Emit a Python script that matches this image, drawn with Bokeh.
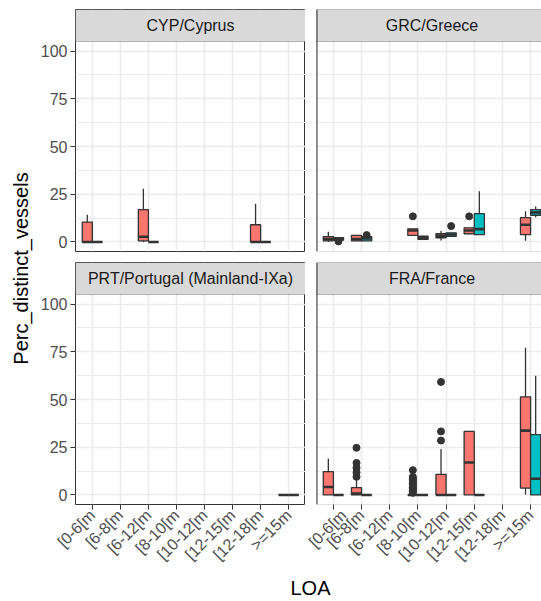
import math
import pandas as pd
from bokeh.plotting import figure
from bokeh.models import Range1d, FixedTicker, BoxAnnotation, Label, ColumnDataSource, Span
from bokeh.layouts import row, column
from bokeh.embed import file_html
from bokeh.resources import INLINE

# ---------------- data ----------------
CATEGORIES = ["[0-6[m", "[6-8[m", "[6-12[m", "[8-10[m", "[10-12[m",
              "[12-15[m", "[12-18[m", ">=15m"]
PANELS = ["CYP/Cyprus", "GRC/Greece", "PRT/Portugal (Mainland-IXa)", "FRA/France"]
GROUPS = ["group 1", "group 2"]
GROUP_COLORS = ["#F8766D", "#00BFC4"]
Y_TICKS = [0, 25, 50, 75, 100]
Y_MINOR = [12.5, 37.5, 62.5, 87.5]

# box statistics: one entry per box
box_panel = ["CYP/Cyprus"] * 6 + ["GRC/Greece"] * 12 + ["PRT/Portugal (Mainland-IXa)"] * 2 + ["FRA/France"] * 12
box_loa = ["[0-6[m", "[0-6[m", "[6-12[m", "[6-12[m", "[12-18[m", "[12-18[m",
           "[0-6[m", "[0-6[m", "[6-8[m", "[6-8[m", "[8-10[m", "[8-10[m",
           "[10-12[m", "[10-12[m", "[12-15[m", "[12-15[m", ">=15m", ">=15m",
           ">=15m", ">=15m",
           "[0-6[m", "[0-6[m", "[6-8[m", "[6-8[m", "[8-10[m", "[8-10[m",
           "[10-12[m", "[10-12[m", "[12-15[m", "[12-15[m", ">=15m", ">=15m"]
box_group = ["group 1", "group 2"] * 16
box_low = [0, 0, 0, 0, 0, 0,
           0, 1.0, 0.6, 0.6, 3.4, 1.3, 0.8, 2.9, 4.3, 3.8, 0.6, 13.0,
           0, 0,
           0, 0, 0, 0, 0, 0, 0, 0, 0, 0, 0.3, 0]
box_q1 = [0, 0, 0.6, 0, 0, 0,
          0.6, 1.0, 0.6, 0.6, 3.4, 1.3, 2.2, 2.9, 4.3, 3.8, 3.8, 14.0,
          0, 0,
          0, 0, 0, 0, 0, 0, 0, 0, 0, 0, 3.6, 0]
box_med = [0, 0, 2.7, 0, 0, 0,
           1.5, 1.5, 1.5, 1.8, 6.0, 2.2, 3.2, 3.9, 6.0, 6.7, 9.0, 15.5,
           0, 0,
           4.2, 0, 0.7, 0, 0, 0, 0, 0, 17.0, 0, 33.7, 8.5]
box_q3 = [10.4, 0, 16.9, 0, 9.0, 0,
          2.8, 2.2, 3.4, 2.8, 6.9, 3.0, 4.3, 4.8, 7.4, 14.8, 12.7, 16.9,
          0, 0,
          12.2, 0, 3.8, 0, 0, 0, 10.8, 0, 33.3, 0, 51.4, 31.6]
box_high = [14.2, 0, 27.9, 0, 20.0, 0,
            5.3, 2.2, 3.4, 2.8, 6.9, 3.0, 5.7, 4.8, 7.4, 26.5, 16.1, 18.6,
            0, 0,
            19.1, 0, 8.5, 0, 0, 0, 24.1, 0, 33.3, 0, 77.1, 62.5]

# outliers
out_panel = (["GRC/Greece"] * 5 + ["FRA/France"] * 22)
out_loa = (["[0-6[m", "[6-8[m", "[8-10[m", "[10-12[m", "[12-15[m"]
           + ["[6-8[m"] * 5 + ["[8-10[m"] * 14 + ["[10-12[m"] * 3)
out_group = (["group 2", "group 2", "group 1", "group 2", "group 1"]
             + ["group 1"] * 22)
out_value = ([0.3, 3.6, 13.4, 8.3, 13.4]
             + [9.5, 11.8, 14.2, 16.8, 24.7]
             + [13.0, 9.5, 8.8, 8.1, 7.4, 6.7, 6.0, 5.3, 4.6, 3.9, 3.2, 2.5, 1.8, 1.1]
             + [28.5, 33.3, 59.2])

# ---------------- styling / layout constants ----------------
FONT = "Liberation Sans"
EDGE = "#333333"
GRID = "#EBEBEB"
DODGE = {GROUPS[0]: -0.18, GROUPS[1]: 0.18}
COLOR = dict(zip(GROUPS, GROUP_COLORS))
BOX_W = 0.36
Y0, Y1 = -5, 105
X0, X1 = 0.4, 8.6
PANEL_PX = 210
STRIP_PX = 32
FULL_W = 231
TITLE_W = 37
LEFT_W = 37
GAP = 11
RIGHT_FRAME = 225
TOP_PAD = 9
BOTTOM_AXIS = 70

boxes = pd.DataFrame(dict(panel=box_panel, loa=box_loa, group=box_group, low=box_low,
                          q1=box_q1, med=box_med, q3=box_q3, high=box_high))
outs = pd.DataFrame(dict(panel=out_panel, loa=out_loa, group=out_group, value=out_value))
cat_pos = {c: i + 1 for i, c in enumerate(CATEGORIES)}
for df in (boxes, outs):
    df["x"] = [cat_pos[c] + DODGE[g] for c, g in zip(df["loa"], df["group"])]
boxes["xl"] = boxes["x"] - BOX_W / 2
boxes["xr"] = boxes["x"] + BOX_W / 2
boxes["color"] = [COLOR[g] for g in boxes["group"]]

y_strip_top = Y1 + STRIP_PX * (Y1 - Y0) / PANEL_PX


def make_panel(name, left, bottom):
    frame_w = FULL_W if left else RIGHT_FRAME
    width = frame_w + (LEFT_W if left else GAP)
    top_border = TOP_PAD if not bottom else 0
    bottom_border = BOTTOM_AXIS if bottom else GAP
    height = PANEL_PX + STRIP_PX + top_border + bottom_border
    x_end = X0 + (X1 - X0) * frame_w / FULL_W
    p = figure(width=width, height=height, output_backend="svg", toolbar_location=None,
               tools="", title=None,
               x_range=Range1d(X0, x_end), y_range=Range1d(Y0, y_strip_top),
               x_axis_location="below" if bottom else None,
               y_axis_location="left" if left else None,
               min_border_left=LEFT_W if left else GAP, min_border_right=0,
               min_border_top=top_border, min_border_bottom=bottom_border)
    p.background_fill_color = "white"
    p.border_fill_color = "white"
    if left:
        p.outline_line_color = EDGE
        p.outline_line_width = 1
    else:
        p.outline_line_color = None

    p.xgrid.ticker = FixedTicker(ticks=list(range(1, len(CATEGORIES) + 1)))
    p.ygrid.ticker = FixedTicker(ticks=Y_TICKS, minor_ticks=Y_MINOR)
    p.xgrid.grid_line_color = GRID
    p.xgrid.grid_line_width = 1.6
    p.ygrid.grid_line_color = GRID
    p.ygrid.grid_line_width = 1.6
    p.ygrid.minor_grid_line_color = GRID
    p.ygrid.minor_grid_line_width = 1

    if bottom:
        ax = p.xaxis[0]
        ax.ticker = FixedTicker(ticks=list(range(1, len(CATEGORIES) + 1)))
        ax.major_label_overrides = {i + 1: c for i, c in enumerate(CATEGORIES)}
        ax.major_label_orientation = math.pi / 4
    if left:
        ax = p.yaxis[0]
        ax.ticker = FixedTicker(ticks=Y_TICKS, minor_ticks=Y_MINOR)
    for ax in list(p.xaxis) + list(p.yaxis):
        ax.major_label_text_font = FONT
        ax.major_label_text_font_size = "16px"
        ax.major_label_text_color = "#4D4D4D"
        ax.major_tick_line_color = EDGE
        ax.major_tick_out = 5
        ax.major_tick_in = 0
        ax.minor_tick_line_color = None
        ax.axis_line_color = None
        ax.major_label_standoff = 3

    # boxplots
    b = boxes[boxes["panel"] == name]
    src = ColumnDataSource(b)
    p.segment(x0="x", y0="low", x1="x", y1="q1", source=src, line_color=EDGE, line_width=1.3)
    p.segment(x0="x", y0="q3", x1="x", y1="high", source=src, line_color=EDGE, line_width=1.3)
    p.quad(left="xl", right="xr", bottom="q1", top="q3", source=src,
           fill_color="color", line_color=EDGE, line_width=1.3)
    p.segment(x0="xl", y0="med", x1="xr", y1="med", source=src, line_color=EDGE, line_width=2.6)
    o = outs[outs["panel"] == name]
    if len(o):
        p.scatter(x="x", y="value", source=ColumnDataSource(o), size=7,
                  fill_color=EDGE, line_color=EDGE)

    # strip
    if left:
        strip = BoxAnnotation(bottom=Y1, fill_color="#D9D9D9", fill_alpha=1,
                              line_color=EDGE, line_width=1)
        p.add_layout(strip)
    else:
        strip = BoxAnnotation(bottom=Y1, right=X1, fill_color="#D9D9D9", fill_alpha=1,
                              line_color=EDGE, line_width=1)
        border = BoxAnnotation(left=X0, right=X1, bottom=Y0, top=y_strip_top,
                               fill_alpha=0, line_color=EDGE, line_width=1)
        p.add_layout(strip)
        p.add_layout(border)
        p.add_layout(Span(location=X0, dimension="height", line_color=EDGE, line_width=2))
    p.add_layout(Label(x=(X0 + X1) / 2, y=(Y1 + y_strip_top) / 2, text=name,
                       text_align="center", text_baseline="middle", text_font=FONT,
                       text_font_size="16px", text_color="#1A1A1A"))
    return p


tl = make_panel(PANELS[0], True, False)
tr = make_panel(PANELS[1], False, False)
bl = make_panel(PANELS[2], True, True)
br = make_panel(PANELS[3], False, True)

panels_w = tl.width + tr.width


def text_fig(w, h):
    f = figure(width=w, height=h, output_backend="svg", toolbar_location=None, tools="",
               title=None, x_range=Range1d(0, w), y_range=Range1d(0, h),
               x_axis_location=None, y_axis_location=None,
               min_border=0, min_border_left=0, min_border_right=0,
               min_border_top=0, min_border_bottom=0)
    f.outline_line_color = None
    f.xgrid.visible = False
    f.ygrid.visible = False
    f.background_fill_color = "white"
    f.border_fill_color = "white"
    return f


LOA_H = 26
loa = text_fig(panels_w, LOA_H)
loa.add_layout(Label(x=310 - TITLE_W, y=LOA_H / 2, text="LOA", text_align="center",
                     text_baseline="middle", text_font=FONT,
                     text_font_size="20px", text_color="black"))

ytitle_h = tl.height + bl.height
ytitle = text_fig(TITLE_W, ytitle_h)
ytitle.add_layout(Label(x=20, y=ytitle_h - 268, text="Perc_distinct_vessels",
                        angle=math.pi / 2, text_align="center", text_baseline="middle",
                        text_font=FONT, text_font_size="20px", text_color="black"))

layout = row(ytitle, column(row(tl, tr), row(bl, br), loa))

open("out.html", "w").write(file_html(layout, INLINE, "chart"))
